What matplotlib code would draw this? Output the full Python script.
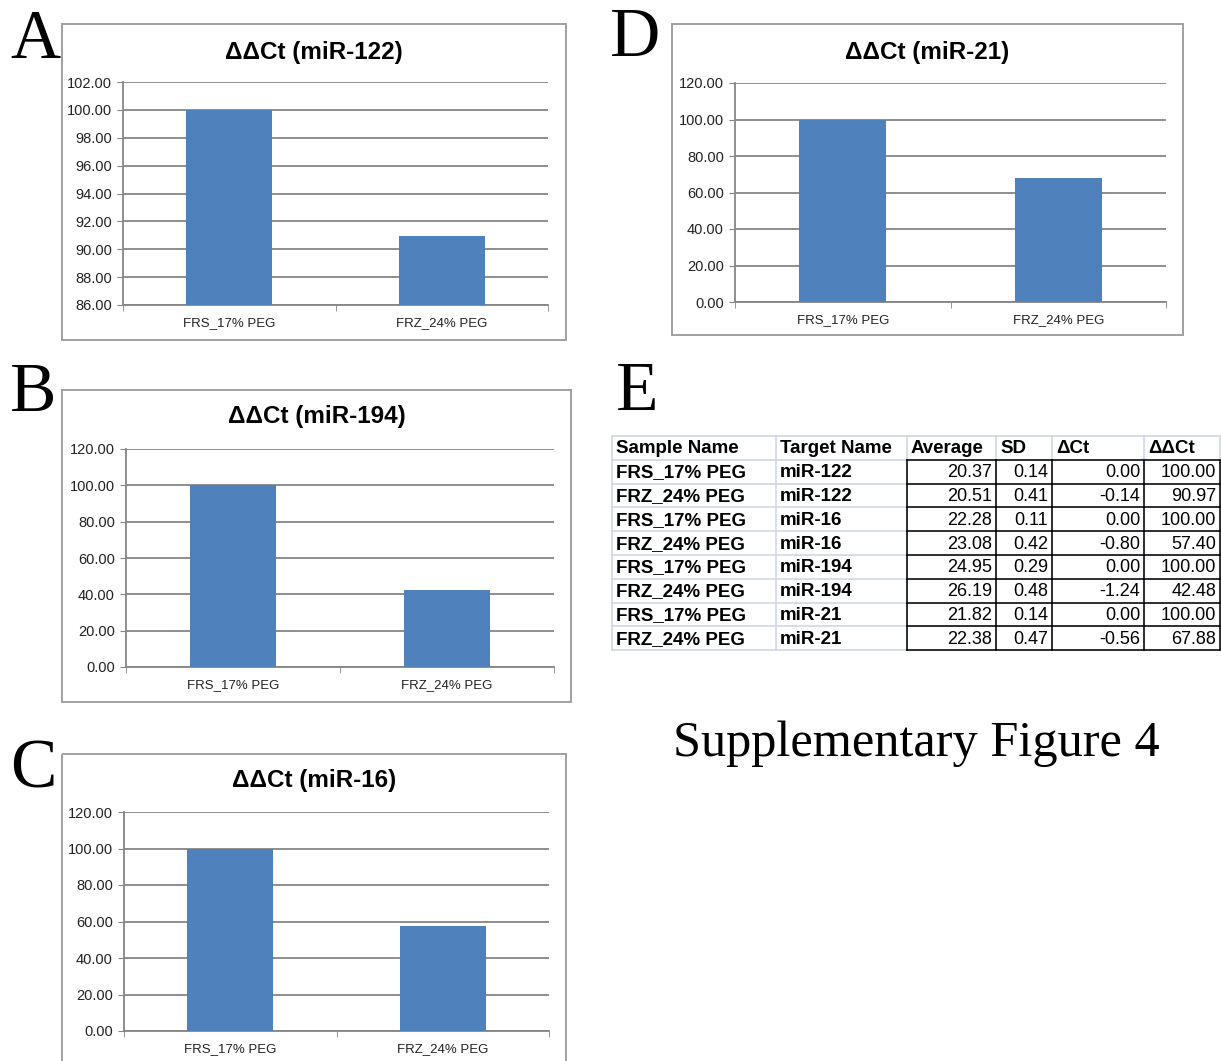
import matplotlib
matplotlib.use('Agg')
import matplotlib.pyplot as plt
from matplotlib.patches import Rectangle
import numpy as np

# table values (panel E)
sample_names = ['FRS_17% PEG', 'FRZ_24% PEG'] * 4
target_names = ['miR-122', 'miR-122', 'miR-16', 'miR-16',
                'miR-194', 'miR-194', 'miR-21', 'miR-21']
averages = [20.37, 20.51, 22.28, 23.08, 24.95, 26.19, 21.82, 22.38]
sds = [0.14, 0.41, 0.11, 0.42, 0.29, 0.48, 0.14, 0.47]
dcts = [0.00, -0.14, 0.00, -0.80, 0.00, -1.24, 0.00, -0.56]
ddcts = [100.00, 90.97, 100.00, 57.40, 100.00, 42.48, 100.00, 67.88]
headers = ['Sample Name', 'Target Name', 'Average', 'SD', '\u0394Ct', '\u0394\u0394Ct']

categories = ['FRS_17% PEG', 'FRZ_24% PEG']

W, H = 1221, 1061
BAR = '#4F81BD'
GRID = '#868686'
FONT = 'Liberation Sans'

fig = plt.figure(figsize=(W / 100, H / 100), dpi=100)
fig.patch.set_facecolor('white')

# overlay axes in pixel coordinates for frames, letters and the table
ov = fig.add_axes([0, 0, 1, 1], zorder=0)
ov.set_xlim(0, W)
ov.set_ylim(H, 0)
ov.axis('off')


def px_axes(x0, y0, x1, y1):
    return fig.add_axes([x0 / W, 1 - y1 / H, (x1 - x0) / W, (y1 - y0) / H], zorder=2)


def bar_panel(target, box, plot, title_y, ylim, yticks):
    bx0, by0, bx1, by1 = box
    ov.add_patch(Rectangle((bx0, by0), bx1 - bx0, by1 - by0, fill=False,
                           edgecolor='#A0A0A0', lw=1.4))
    ov.text((bx0 + bx1) / 2, title_y, '\u0394\u0394Ct (miR-%s)' % target.split('-')[1],
            ha='center', va='center', fontsize=17.5, fontweight='bold', family=FONT)
    vals = [ddcts[i] for i in range(len(target_names)) if target_names[i] == target]
    ax = px_axes(*plot)
    ax.patch.set_alpha(0)
    x = np.arange(len(categories))
    ax.bar(x, [v - ylim[0] for v in vals], bottom=ylim[0], width=0.405, color=BAR, zorder=3)
    ax.set_xlim(-0.5, len(categories) - 0.5)
    ax.set_ylim(*ylim)
    ax.set_yticks(yticks)
    ax.set_yticklabels(['%.2f' % t for t in yticks])
    ax.set_xticks(x)
    ax.set_xticklabels(categories)
    ax.set_xticks([-0.5, 0.5, 1.5], minor=True)
    ax.tick_params(axis='x', which='major', length=0, pad=9, labelsize=9.5, colors='#222222')
    ax.tick_params(axis='x', which='minor', length=4, color=GRID, direction='out')
    ax.tick_params(axis='y', length=4, color=GRID, pad=4, labelsize=10.5, labelcolor='#222222')
    for lab in ax.get_xticklabels() + ax.get_yticklabels():
        lab.set_family(FONT)
    ax.yaxis.grid(True, color=GRID, lw=1.3, zorder=0)
    ax.set_axisbelow(True)
    for s in ['top', 'right']:
        ax.spines[s].set_visible(False)
    for s in ['left', 'bottom']:
        ax.spines[s].set_color(GRID)
        ax.spines[s].set_linewidth(1.3)
    return ax


bar_panel('miR-122', (62, 24, 566, 340), (123, 82, 548, 305), 52,
          (86, 102), np.arange(86, 103, 2))
bar_panel('miR-194', (62, 390, 571, 702), (126, 449, 554, 667), 417,
          (0, 120), np.arange(0, 121, 20))
bar_panel('miR-16', (62, 754, 566, 1075), (124, 812, 549, 1031), 781,
          (0, 120), np.arange(0, 121, 20))
bar_panel('miR-21', (672, 24, 1183, 335), (735, 83, 1166, 302), 53,
          (0, 120), np.arange(0, 121, 20))

# panel letters
for letter, lx, ly in [('A', 10, 58), ('B', 10, 411), ('C', 10, 787),
                       ('D', 610, 56), ('E', 616, 410)]:
    ov.text(lx, ly, letter, fontsize=50, family='Liberation Serif',
            ha='left', va='baseline')

ov.text(916, 756, 'Supplementary Figure 4', fontsize=36.3, family='Liberation Serif',
        ha='center', va='baseline')

# table E
col_edges = [612, 776, 907, 996, 1052, 1144, 1220]
row_top = 436
row_h = 23.8
n_rows = len(sample_names) + 1
LIGHT = '#D0D7E5'

for r in range(n_rows + 1):
    ov.plot([col_edges[0], col_edges[-1]], [row_top + r * row_h] * 2, color=LIGHT, lw=1.2, zorder=1)
for c in col_edges:
    ov.plot([c, c], [row_top, row_top + n_rows * row_h], color=LIGHT, lw=1.2, zorder=1)
# black borders around numeric cells
for r in range(1, n_rows + 1):
    ov.plot([col_edges[2], col_edges[-1]], [row_top + r * row_h] * 2, color='black', lw=1.1, zorder=2)
for c in col_edges[2:]:
    ov.plot([c, c], [row_top + row_h, row_top + n_rows * row_h], color='black', lw=1.1, zorder=2)

for c, h in enumerate(headers):
    ov.text(col_edges[c] + 4, row_top + row_h / 2 + 1, h, ha='left', va='center',
            fontsize=13.5, fontweight='bold', family=FONT)

for r in range(len(sample_names)):
    yc = row_top + (r + 1.5) * row_h + 1
    ov.text(col_edges[0] + 4, yc, sample_names[r], ha='left', va='center',
            fontsize=13.5, fontweight='bold', family=FONT)
    ov.text(col_edges[1] + 4, yc, target_names[r], ha='left', va='center',
            fontsize=13.5, fontweight='bold', family=FONT)
    cells = ['%.2f' % averages[r], '%.2f' % sds[r], '%.2f' % dcts[r], '%.2f' % ddcts[r]]
    for k, s in enumerate(cells):
        ov.text(col_edges[k + 3] - 4, yc, s, ha='right', va='center',
                fontsize=13, family=FONT)

fig.savefig('out.png', dpi=100)
